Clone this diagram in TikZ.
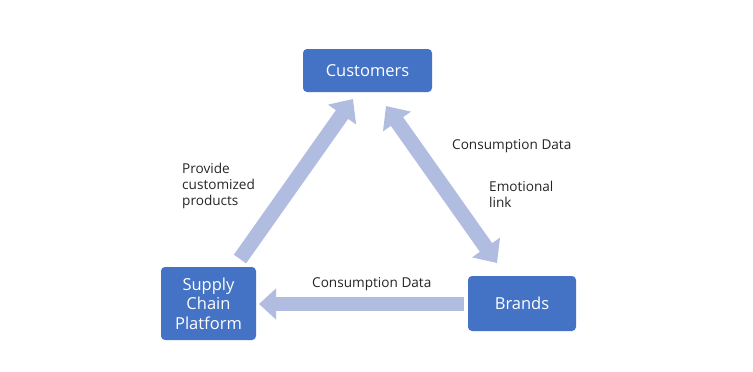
\documentclass[tikz,border=0pt]{standalone}
\usepackage{fontspec}
\setmainfont{Open Sans}
\usetikzlibrary{arrows.meta}
\definecolor{boxblue}{HTML}{4472C4}
\definecolor{flowblue}{HTML}{B0BCE0}
\begin{document}
\begin{tikzpicture}[x=1pt,y=-1pt,
  actor/.style={fill=boxblue,rounded corners=4pt,text=white,align=center,
    font=\fontsize{16.5}{19.5}\selectfont,inner sep=0pt},
  lbl/.style={font=\fontsize{13.6}{16}\selectfont,align=left,inner sep=0pt,text=black!85},
  flow/.style={draw=flowblue,line width=15pt,line cap=butt,
    -{Triangle[width=33pt,length=19pt]}},
  flowboth/.style={draw=flowblue,line width=15pt,line cap=butt,
    {Triangle[width=33pt,length=19pt]}-{Triangle[width=33pt,length=19pt]}}]
\useasboundingbox[fill=white] (0,0) rectangle (753,372);

% actors
\node[actor,minimum width=129pt,minimum height=43pt] (cust) at (367.5,70.5) {Customers};
\node[actor,minimum width=108pt,minimum height=55pt] (brand) at (522,303.5) {Brands};
\node[actor,minimum width=95pt,minimum height=73pt] (scp) at (208.5,303.5) {Supply\\Chain\\Platform};

% flow end points
\coordinate (scpOut) at (240,259);
\coordinate (custInL) at (353,99);
\coordinate (custInR) at (386,106);
\coordinate (brandIn) at (497,263);
\coordinate (brandOut) at (464,304);
\coordinate (scpIn) at (259,304);

% flows
\draw[flow] (scpOut) -- (custInL);
\draw[flowboth] (custInR) -- (brandIn);
\draw[flow,line width=14pt,-{Triangle[width=30pt,length=17pt]}] (brandOut) -- (scpIn);

% labels
\node[lbl,anchor=west] (lprov) at (182,186) {Provide\\customized\\products};
\node[lbl,anchor=west] (lcons1) at (452,146) {Consumption Data};
\node[lbl,anchor=west] (lemo) at (489,194.5) {Emotional\\link};
\node[lbl,anchor=west] (lcons2) at (312,284) {Consumption Data};
\end{tikzpicture}
\end{document}
